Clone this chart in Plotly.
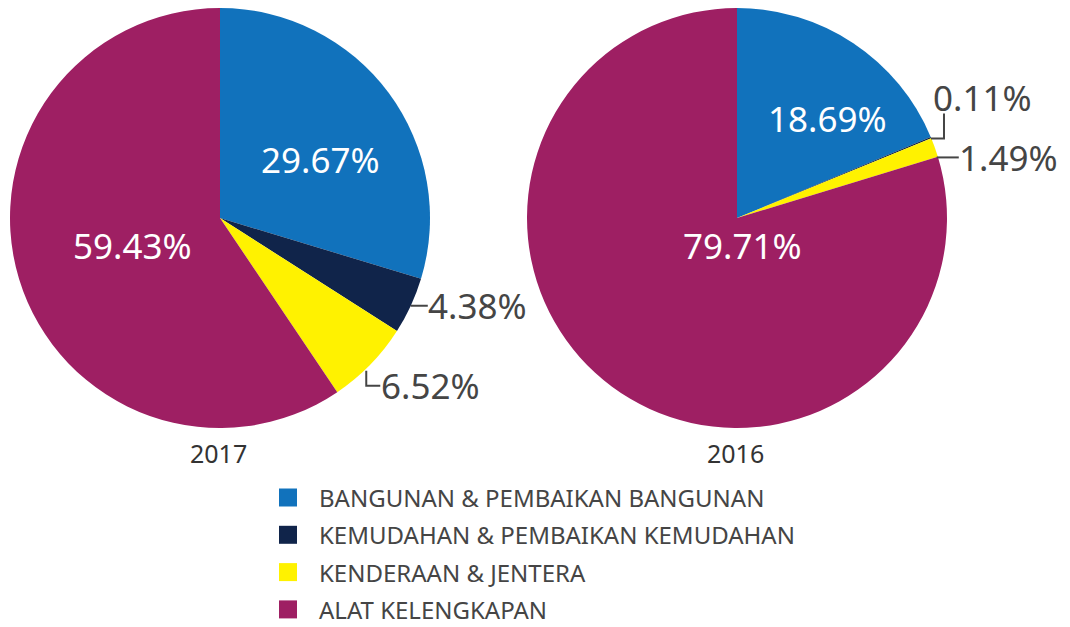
import math
import plotly.graph_objects as go

categories = ["BANGUNAN & PEMBAIKAN BANGUNAN", "KEMUDAHAN & PEMBAIKAN KEMUDAHAN",
              "KENDERAAN & JENTERA", "ALAT KELENGKAPAN"]
values_2017 = [29.67, 4.38, 6.52, 59.43]
values_2016 = [18.69, 0.11, 1.49, 79.71]
years = ["2017", "2016"]
colors = ["#1172BC", "#10244A", "#FFF200", "#9E1F63"]

# the page body has an 8px default margin; the figure is sized to fill the rest
OFF = 8
W, H = 1070 - OFF, 627 - OFF
FONT = "Noto Sans"
TXT = "#454545"

def px(x):
    return (x - OFF) / W

def py(y):
    return 1 - (y - OFF) / H

pies = [dict(cx=220, cy=218, r=210, vals=values_2017, year=years[0],
             inside_off={0: (100, -58), 3: (-87, 27)}),
        dict(cx=737, cy=218, r=210, vals=values_2016, year=years[1],
             inside_off={0: (90, -100), 3: (5, 27)})]

fig = go.Figure()
for p in pies:
    fig.add_trace(go.Pie(
        labels=categories, values=p["vals"], sort=False, direction="clockwise",
        rotation=0,
        marker=dict(colors=colors, line=dict(width=0)),
        textinfo="none",
        domain=dict(x=[px(p["cx"] - p["r"]), px(p["cx"] + p["r"])],
                    y=[py(p["cy"] + p["r"]), py(p["cy"] - p["r"])]),
        showlegend=False, hoverinfo="label+value",
    ))

shapes = []
annotations = []

def edge_point(p, idx):
    tot = sum(p["vals"])
    start = sum(p["vals"][:idx]) / tot * 360
    end = sum(p["vals"][:idx + 1]) / tot * 360
    mid = math.radians((start + end) / 2)
    return p["cx"] + p["r"] * math.sin(mid), p["cy"] - p["r"] * math.cos(mid)

def line(pts):
    path = "M " + " L ".join(f"{px(x)},{py(y)}" for x, y in pts)
    shapes.append(dict(type="path", path=path, xref="paper", yref="paper",
                       line=dict(color=TXT, width=2)))

def label(x, y, text, anchor="left", color=TXT):
    annotations.append(dict(x=px(x), y=py(y), xref="paper", yref="paper", text=text,
                            showarrow=False, xanchor=anchor, yanchor="middle",
                            font=dict(size=35, color=color, family=FONT)))

# inside labels
for p in pies:
    for idx, (dx, dy) in p["inside_off"].items():
        label(p["cx"] + dx, p["cy"] + dy, f"{p['vals'][idx]:.2f}%", anchor="center", color="white")

# 2017 small slices
p = pies[0]
ex, ey = edge_point(p, 1)
line([(ex, ey), (ex + 17, ey)])
label(ex + 15, ey, f"{p['vals'][1]:.2f}%")
ex, ey = edge_point(p, 2)
line([(ex - 4, ey + 6), (ex - 4, ey + 21), (ex + 10, ey + 21)])
label(ex + 9, ey + 21, f"{p['vals'][2]:.2f}%")

# 2016 small slices
p = pies[1]
ex, ey = edge_point(p, 1)
line([(ex, ey + 1), (ex + 13, ey + 1), (ex + 13, ey - 24)])
label(ex + 52, ey - 40, f"{p['vals'][1]:.2f}%", anchor="center")
ex, ey = edge_point(p, 2)
line([(ex + 2, ey + 10), (ex + 24, ey + 10)])
label(ex + 22, ey + 10, f"{p['vals'][2]:.2f}%")

# year captions
for p in pies:
    annotations.append(dict(x=px(p["cx"] - 2), y=py(453), xref="paper", yref="paper",
                            text=p["year"], showarrow=False, xanchor="center", yanchor="middle",
                            font=dict(size=25, color="#333333", family=FONT)))

# legend
for i, (cat, col) in enumerate(zip(categories, colors)):
    yc = 497.5 + i * 37.3
    shapes.append(dict(type="rect", xref="paper", yref="paper",
                       x0=px(279), x1=px(297), y0=py(yc + 9), y1=py(yc - 9),
                       fillcolor=col, line=dict(width=0)))
    annotations.append(dict(x=px(317), y=py(yc), xref="paper", yref="paper", text=cat,
                            showarrow=False, xanchor="left", yanchor="middle",
                            font=dict(size=24, color=TXT, family=FONT)))

fig.update_layout(width=W, height=H, margin=dict(l=0, r=0, t=0, b=0),
                  paper_bgcolor="white", plot_bgcolor="white",
                  shapes=shapes, annotations=annotations,
                  font=dict(family=FONT))
fig.write_html("out.html")
